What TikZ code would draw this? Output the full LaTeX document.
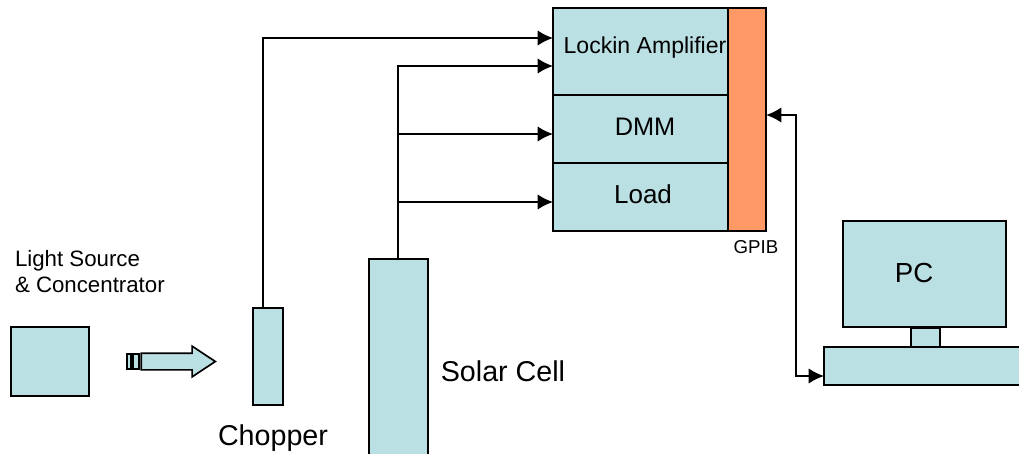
\documentclass[tikz,border=0pt]{standalone}
\usepackage{fontspec}
\setmainfont{Liberation Sans}
\usetikzlibrary{shapes,arrows,arrows.meta}
\definecolor{boxblue}{HTML}{BBE0E3}
\definecolor{boxorange}{HTML}{FF9966}
\tikzset{
	block/.style    = {draw, fill=boxblue, line width=1.25pt, rectangle, inner sep=0pt, outer sep=0pt},
	bus/.style      = {block, fill=boxorange},
	beam/.style     = {block, single arrow, single arrow head extend=5.25pt, text height=11.25pt,
		single arrow tip angle=67, single arrow head indent=0pt},
	wire/.style     = {line width=1.25pt},
	caption/.style  = {inner sep=0pt, outer sep=0pt, text=black}
}
\newcommand{\labelsize}[1]{\fontsize{#1}{#1}\selectfont}

\begin{document}
\begin{tikzpicture}[x=0.75pt, y=-0.75pt, >={Latex[length=11.5pt,width=11.5pt]}]

	\useasboundingbox (0,0) rectangle (1019,453);
	\clip (0,0) rectangle (1019,453);

	\draw
	% Light source and its beam
	node at (50,361.5) [block, minimum width=58.5pt, minimum height=51.75pt] (source) {}
	node at (15,272) [caption, anchor=west, align=left, font=\fontsize{16.7}{19.5}\selectfont] (sourcename) {Light Source\\\& Concentrator}
	node at (129,361.5) [block, minimum width=3pt, minimum height=11.25pt] (band1) {}
	node at (136,361.5) [block, minimum width=4.5pt, minimum height=11.25pt] (band2) {}
	node at (172,361.5) [beam, minimum height=55.5pt] (beam) {}

	% Chopper and cell
	node at (268,356.5) [block, minimum width=22.5pt, minimum height=72.75pt] (chopper) {}
	node at (273,438) [caption] (choppername) {\labelsize{21.5}Chopper}
	node at (398.5,366) [block, minimum width=44.25pt, minimum height=160.5pt] (cell) {}
	node at (503,371) [caption] (cellname) {\labelsize{21.5}Solar Cell}

	% Instrument rack
	node at (640.5,51.5) [block, minimum width=131.25pt, minimum height=65.25pt] (lockin) {}
	node at (640.5,129) [block, minimum width=131.25pt, minimum height=51pt] (dmm) {}
	node at (640.5,197) [block, minimum width=131.25pt, minimum height=51pt] (load) {}
	node at (747,119.5) [bus, minimum width=28.5pt, minimum height=167.25pt] (gpib) {}
	node at (645,47.5) [caption] (lockinname) {\labelsize{17.3}Lockin Amplifier}
	node at (645,127) [caption] (dmmname) {\labelsize{19}DMM}
	node at (643,194) [caption] (loadname) {\labelsize{19.5}Load}
	node at (756,247) [caption] (gpibname) {\labelsize{14}GPIB}

	% PC
	node at (925.5,338) [block, minimum width=21.75pt, minimum height=15pt] (stand) {}
	node at (924.5,274) [block, minimum width=122.25pt, minimum height=79.5pt] (monitor) {}
	node at (925,366) [block, minimum width=151.5pt, minimum height=28.5pt] (desk) {}
	node at (914,273) [caption] (pcname) {\labelsize{20.7}PC};

	\coordinate (chopperout) at (263,308);
	\coordinate (cellout) at (398,259);
	\coordinate (lockinref) at (553,38);
	\coordinate (lockinsig) at (553,66);
	\coordinate (dmmin) at (553,134);
	\coordinate (loadin) at (553,202);
	\coordinate (gpibport) at (766,115);
	\coordinate (deskport) at (824,376);
	\coordinate (bend) at (796,115);
	\coordinate (bendlow) at (796,376);

	\draw[->, wire](chopperout) |- (lockinref);
	\draw[->, wire](cellout) |- (lockinsig);
	\draw[->, wire](cellout) |- (dmmin);
	\draw[->, wire](cellout) |- (loadin);
	\draw[<->, wire](gpibport) -- (bend) -- (bendlow) -- (deskport);

\end{tikzpicture}
\end{document}
